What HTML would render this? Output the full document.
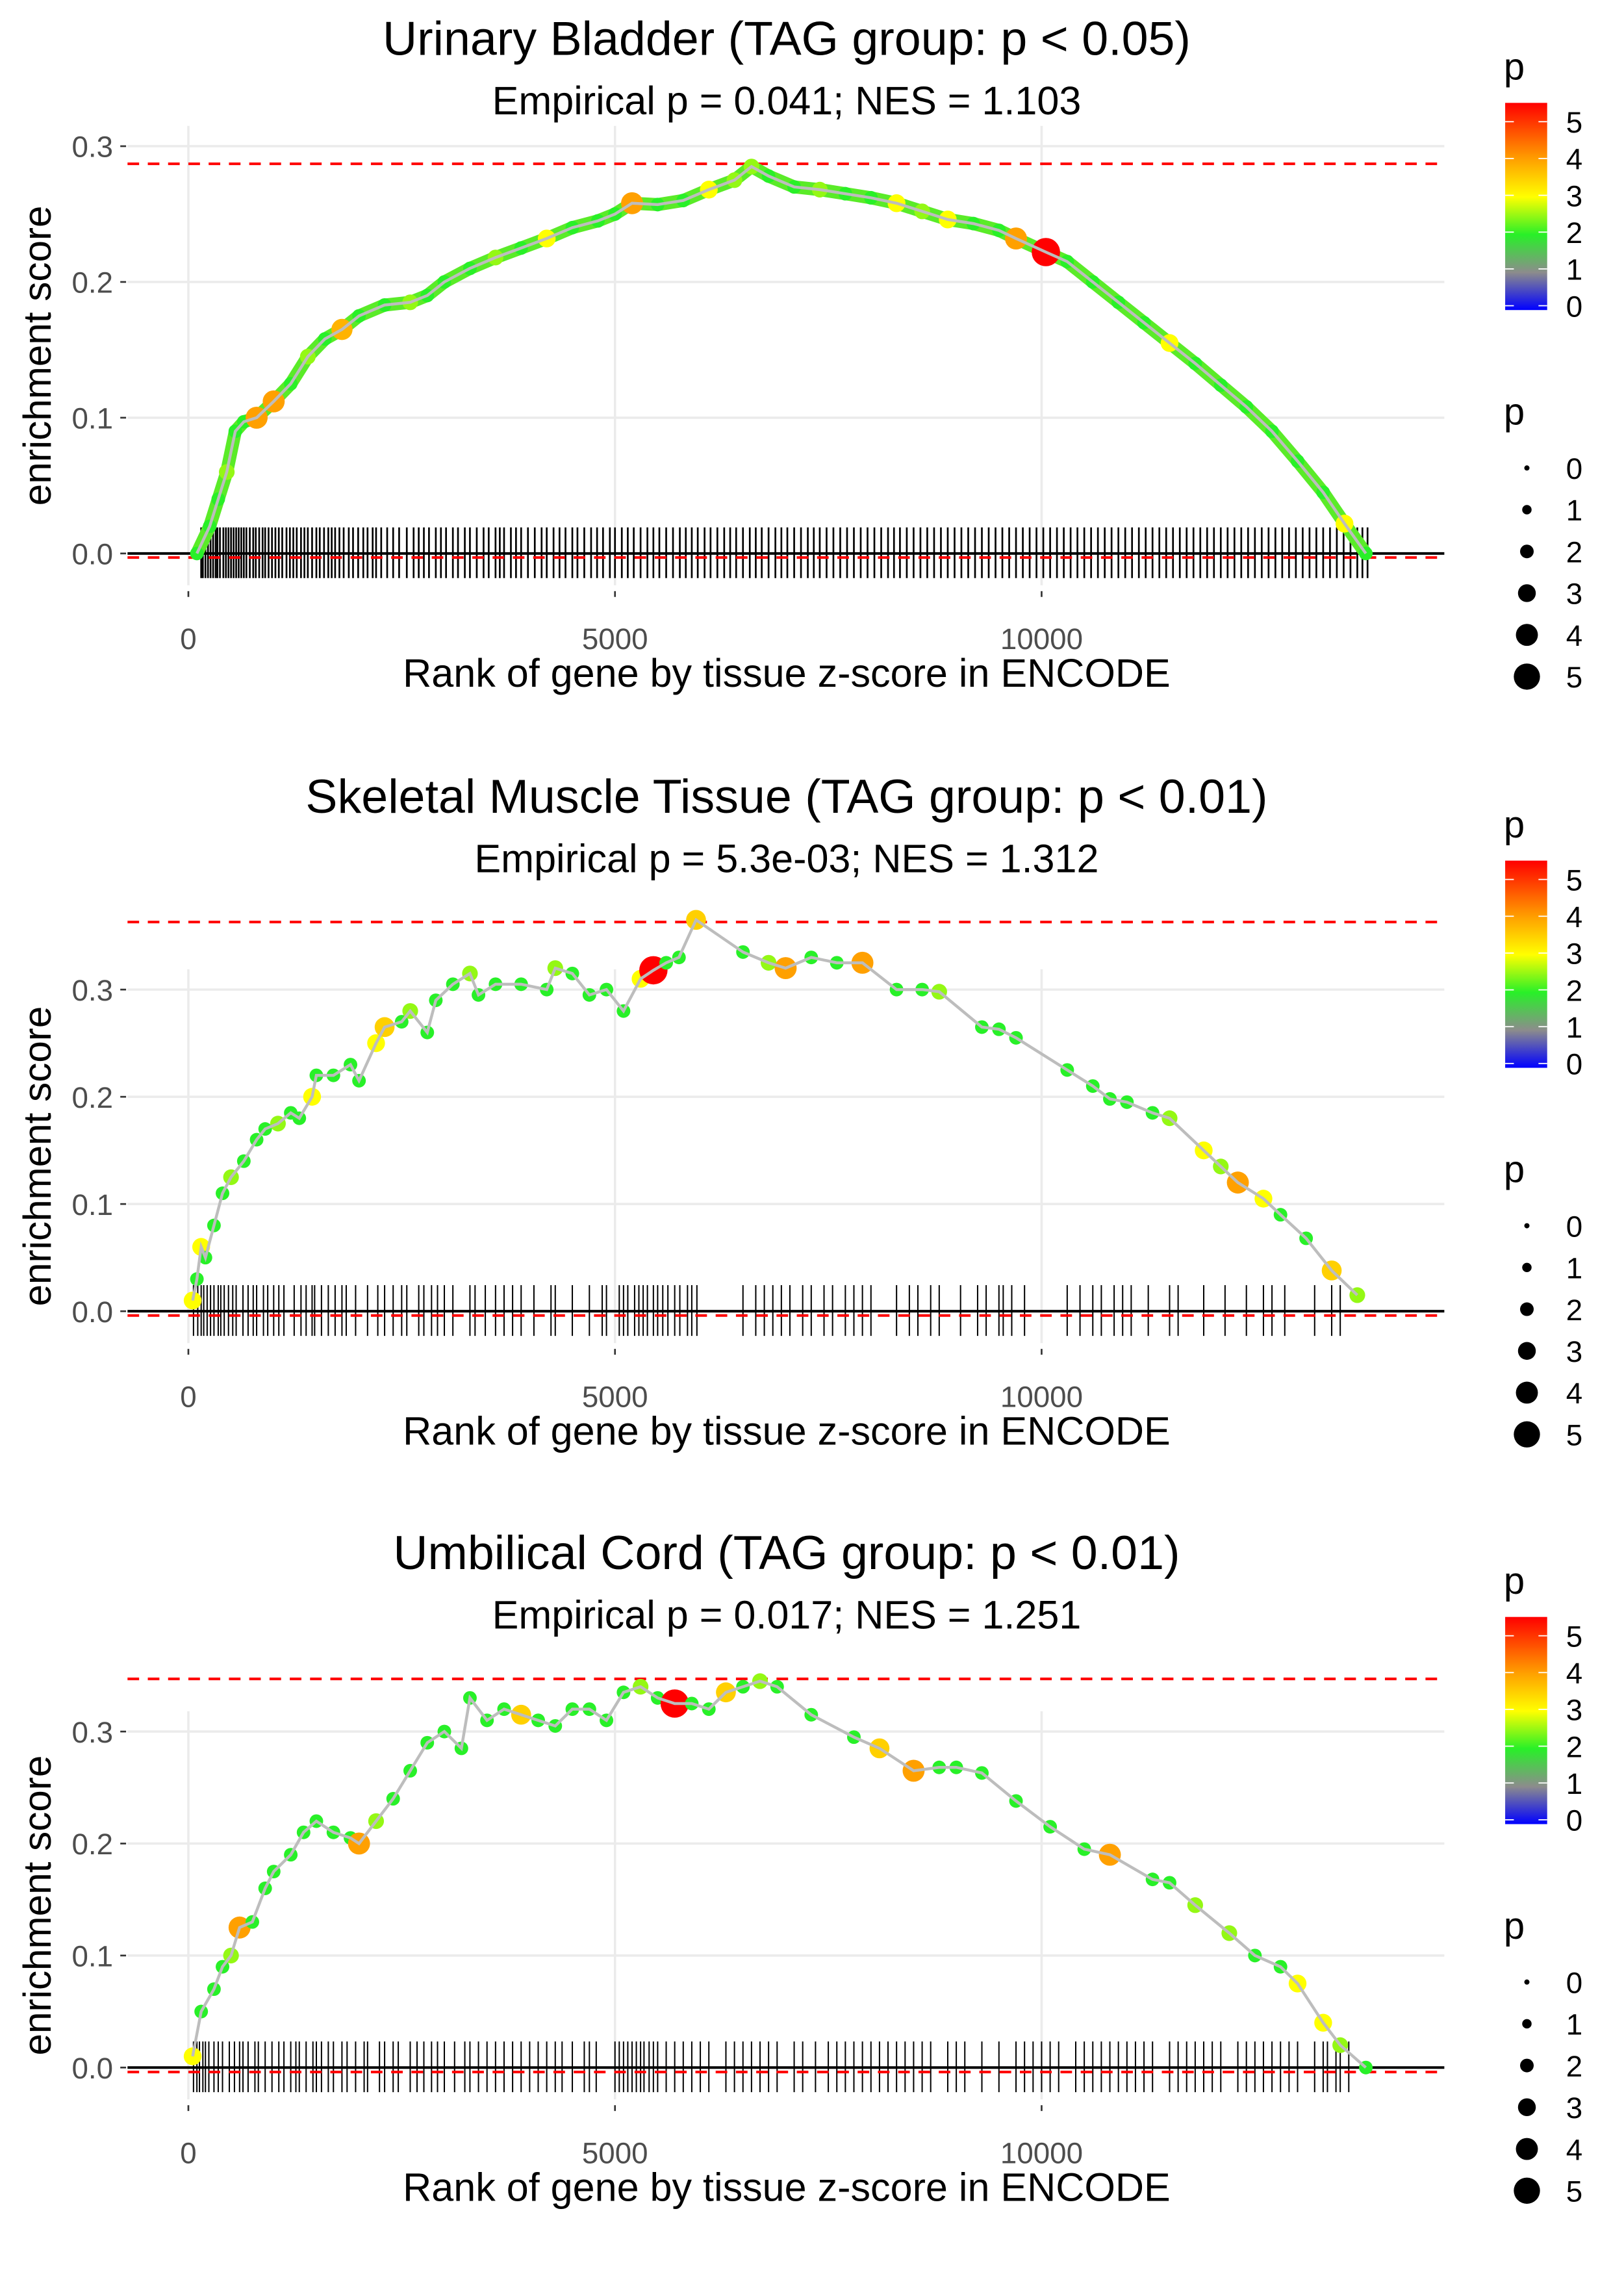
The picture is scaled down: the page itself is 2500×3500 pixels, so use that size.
<!DOCTYPE html>
<html><head><meta charset="utf-8"><style>
html,body{margin:0;padding:0;background:#fff}
svg{display:block}
text{font-family:"Liberation Sans",sans-serif}
</style></head><body>
<svg id="chart" width="2500" height="3500" viewBox="0 0 1121 1569.5" xmlns="http://www.w3.org/2000/svg"></svg>
<script>
// ---------- data ----------
const titles1=["Urinary Bladder (TAG group: p < 0.05)","Skeletal Muscle Tissue (TAG group: p < 0.01)","Umbilical Cord (TAG group: p < 0.01)"];
const subtitles=["Empirical p = 0.041; NES = 1.103","Empirical p = 5.3e-03; NES = 1.312","Empirical p = 0.017; NES = 1.251"];
const xTicks=[0,5000,10000];
const yTicks=[0.0,0.1,0.2,0.3];
const maxES=[0.287,0.363,0.347];
const minES=[-0.003,-0.004,-0.004];

const rank1=[100,250,350,450,550,650,800,1000,1200,1400,1600,1800,2000,2300,2600,2800,3000,3300,3600,3900,4200,4500,4800,5000,5200,5500,5800,6100,6400,6600,6800,7100,7400,7700,8000,8300,8600,8900,9200,9500,9700,10050,10300,10600,10900,11200,11500,11800,12100,12400,12700,13000,13300,13550,13800];
const es1=[0,0.02,0.04,0.06,0.09,0.097,0.10,0.112,0.125,0.145,0.158,0.165,0.175,0.183,0.185,0.19,0.2,0.21,0.218,0.225,0.232,0.24,0.245,0.25,0.258,0.257,0.26,0.268,0.275,0.285,0.278,0.27,0.268,0.265,0.262,0.258,0.252,0.246,0.243,0.238,0.232,0.222,0.215,0.2,0.185,0.17,0.155,0.14,0.124,0.108,0.09,0.068,0.045,0.022,0.0];
const p1=[2,2,2,2.5,2,2,4,4,2,2.5,2,3.8,2,2,2.5,2,2,2,2.5,2,3,2,2,2,4,2,2,3,2.5,2.5,2,2,2.5,2,2,3,2.5,3,2,2,4,5.5,2,2,2,2,3,2,2,2,2,2,2,3,2];

const rank2=[50,100,150,200,300,400,500,650,800,900,1050,1200,1300,1450,1500,1700,1900,2000,2200,2300,2500,2600,2800,2900,3100,3300,3400,3600,3900,4200,4300,4500,4700,4900,5100,5300,5450,5600,5750,5950,6500,6800,7000,7300,7600,7900,8300,8600,8800,9300,9500,9700,10300,10600,10800,11000,11300,11500,11900,12100,12300,12600,12800,13100,13400,13700];
const es2=[0.01,0.03,0.06,0.05,0.08,0.11,0.125,0.14,0.16,0.17,0.175,0.185,0.18,0.2,0.22,0.22,0.23,0.215,0.25,0.265,0.27,0.28,0.26,0.29,0.305,0.315,0.295,0.305,0.305,0.3,0.32,0.315,0.295,0.3,0.28,0.31,0.318,0.325,0.33,0.365,0.335,0.325,0.32,0.33,0.325,0.325,0.3,0.3,0.298,0.265,0.263,0.255,0.225,0.21,0.198,0.195,0.185,0.18,0.15,0.135,0.12,0.105,0.09,0.068,0.038,0.015];
const p2=[3,2,3,2,2,2,2.5,2,2,2,2.5,2,2,3,2,2,2,2,3,3.5,2,2.5,2,2,2,2.5,2,2,2,2,2.5,2,2,2,2,3,5.5,2,2,3.5,2,2.5,4,2,2,4,2,2,2.5,2,2,2,2,2,2,2,2,2.5,3,2.5,4,3,2,2,3.5,2.5];
const rug2=[60,110,150,180,220,260,300,350,380,420,470,520,560,640,700,760,800,880,930,1000,1060,1120,1240,1320,1380,1450,1480,1560,1640,1720,1800,1850,1960,2100,2220,2300,2400,2500,2560,2700,2760,2850,2920,3000,3100,3300,3360,3480,3600,3700,3800,3900,4050,4250,4300,4500,4700,4850,4900,5050,5100,5150,5230,5280,5330,5380,5450,5500,5560,5620,5700,5760,5850,5900,5960,6500,6650,6750,6850,6950,7050,7200,7300,7450,7550,7700,7800,7900,8000,8300,8450,8550,8700,8800,9050,9250,9350,9500,9550,9650,9800,10300,10450,10600,10700,10850,10950,11050,11250,11500,11600,11900,12150,12400,12600,12700,12850,13200,13400,13500];

const rank3=[50,150,300,400,500,600,750,900,1000,1200,1350,1500,1700,1900,2000,2200,2400,2600,2800,3000,3200,3300,3500,3700,3900,4100,4300,4500,4700,4900,5100,5300,5500,5700,5900,6100,6300,6500,6700,6900,7300,7800,8100,8500,8800,9000,9300,9700,10100,10500,10800,11300,11500,11800,12200,12500,12800,13000,13300,13500,13800];
const es3=[0.01,0.05,0.07,0.09,0.1,0.125,0.13,0.16,0.175,0.19,0.21,0.22,0.21,0.205,0.2,0.22,0.24,0.265,0.29,0.3,0.285,0.33,0.31,0.32,0.315,0.31,0.305,0.32,0.32,0.31,0.335,0.34,0.33,0.325,0.325,0.32,0.335,0.34,0.345,0.34,0.315,0.295,0.285,0.265,0.268,0.268,0.263,0.238,0.215,0.195,0.19,0.168,0.165,0.145,0.12,0.1,0.09,0.075,0.04,0.02,0.0];
const p3=[3,2,2,2,2.5,4,2,2,2,2,2,2,2,2,4,2.5,2,2,2,2,2,2,2,2,3.5,2,2,2,2,2,2,2.5,2,5.5,2,2,3.5,2,2.5,2,2,2,3.5,4,2,2,2,2,2,2,4,2,2,2.5,2.5,2,2,3,3,2.5,2];
const rug3=[60,100,130,170,200,240,300,350,400,480,540,600,640,700,780,820,900,980,1060,1120,1200,1260,1300,1380,1460,1500,1560,1640,1700,1800,1860,1960,2060,2100,2240,2300,2400,2460,2600,2680,2760,2850,2920,3000,3120,3240,3300,3400,3500,3600,3700,3800,3900,4000,4100,4200,4300,4380,4500,4640,4700,4780,5000,5050,5100,5150,5200,5250,5300,5340,5400,5450,5500,5600,5700,5800,5900,6000,6100,6300,6400,6500,6600,6700,6800,6900,7100,7200,7350,7500,7600,7700,7800,7900,8000,8100,8200,8300,8400,8500,8600,8700,8900,9000,9100,9300,9500,9700,9800,9900,10000,10100,10200,10400,10500,10600,10700,10800,10900,11000,11100,11200,11300,11500,11600,11700,11800,11900,12000,12100,12300,12400,12500,12600,12700,12800,12900,13000,13200,13300,13350,13450,13500,13600];
const rug1Start=[150,170,200,230,260,290,320,340,370,410,440,470,500,530,560,590,620,650,680,720,760,790,830,870,900,940,980,1020,1060,1100,1150,1190,1230,1270,1320,1360,1400,1450,1500,1540,1590,1640,1680,1720,1770,1820,1880,1930,1990,2050,2100,2160,2200,2260,2330,2400,2470,2560,2640,2700,2760,2820,2900,2960,3020,3100,3160,3240,3300,3380,3460,3520,3600,3650,3700,3780,3840,3900,3980,4060,4140,4200,4280,4350,4420,4500,4560,4640,4720,4790,4860,4940,5000,5080,5150,5220,5300,5380,5450,5520,5600,5680,5760,5830,5900,5970,6050,6120,6200,6280,6350,6420,6500,6580,6650,6720,6800,6880,6950,7020,7100,7180,7260,7330,7400,7480,7560,7640,7720,7800,7880,7960,8040,8120,8200,8270,8340,8420,8500,8580,8660,8740,8820,8900,8980,9060,9140,9220,9300,9380,9460,9540,9620,9700,9780,9860,9940,10020,10100,10180,10260,10340,10420,10500,10580,10660,10740,10820,10900,10980,11060,11140,11220,11300,11380,11460,11540,11620,11700,11780,11860,11940,12020,12100,12180,12260,12340,12420,12500,12580,12660,12740,12820,12900,12980,13060,13140,13220,13300,13380,13460,13540,13620,13700,13760,13820];

// ---------- drawing ----------
const svg=document.getElementById('chart');
const NS="http://www.w3.org/2000/svg";
function mk(tag,attrs,parent){const e=document.createElementNS(NS,tag);for(const k in attrs)e.setAttribute(k,attrs[k]);(parent||svg).appendChild(e);return e;}
function colorOf(p){
  const stops=[[0,[0,0,255]],[1,[140,140,140]],[2,[40,240,40]],[3,[255,255,0]],[4,[255,160,0]],[5.5,[255,0,0]]];
  p=Math.max(0,Math.min(5.5,p));
  for(let i=0;i<stops.length-1;i++){const a=stops[i],b=stops[i+1];if(p<=b[0]){const t=(p-a[0])/(b[0]-a[0]);const c=a[1].map((v,j)=>Math.round(v+(b[1][j]-v)*t));return `rgb(${c.join(',')})`;}}
  return 'rgb(255,0,0)';
}
function radOf(p){return 1.8+p*1.45;}

const panels=[
 {off:0,y0:382,ys:937,rank:rank1,es:es1,p:p1,rug:rug1Start,band:9,rugW:1.2},
 {off:523,y0:905,ys:740,rank:rank2,es:es2,p:p2,rug:rug2,band:0,rugW:0.9},
 {off:1045,y0:1427,ys:773,rank:rank3,es:es3,p:p3,rug:rug3,band:0,rugW:0.9}
];
const xL=88,xR=997;
function xS(v){return 130+v*0.0589;}

panels.forEach((P,i)=>{
  const g=mk('g',{});
  
  
  const yS=v=>P.y0-v*P.ys;
  const top=yS(0.3)-14, bot=P.y0+22;
  const t=mk('text',{x:543,y:P.off+38,'font-size':33,'text-anchor':'middle',fill:'#000'},g);t.textContent=titles1[i];
  
  const s=mk('text',{x:543,y:P.off+79,'font-size':27.4,'text-anchor':'middle',fill:'#000'},g);s.textContent=subtitles[i];
  
  xTicks.forEach(v=>{const l=mk('line',{x1:xS(v),x2:xS(v),y1:top,y2:bot,stroke:'#ebebeb','stroke-width':1.6},g);
    
    mk('line',{x1:xS(v),x2:xS(v),y1:bot+4,y2:bot+8,stroke:'#333','stroke-width':1.2},g);
    const tl=mk('text',{x:xS(v),y:P.y0+66,'font-size':20.5,'text-anchor':'middle',fill:'#4d4d4d'},g);tl.textContent=v;
    });
  yTicks.forEach(v=>{if(v>0){const l=mk('line',{x1:xL,x2:xR,y1:yS(v),y2:yS(v),stroke:'#ebebeb','stroke-width':1.6},g);
    }
    mk('line',{x1:83,x2:87,y1:yS(v),y2:yS(v),stroke:'#333','stroke-width':1.2},g);
    const tl=mk('text',{x:78,y:yS(v)+7.5,'font-size':20.5,'text-anchor':'end',fill:'#4d4d4d'},g);tl.textContent=v.toFixed(1);
    });
  P.rug.forEach(r=>{const l=mk('line',{x1:xS(r),x2:xS(r),y1:P.y0-18,y2:P.y0+17,stroke:'#000','stroke-width':P.rugW},g);
    });
  const z=mk('line',{x1:xL,x2:xR,y1:P.y0,y2:P.y0,stroke:'#000','stroke-width':1.8},g);
  
  const mx=mk('line',{x1:xL,x2:xR,y1:yS(maxES[i]),y2:yS(maxES[i]),stroke:'#ff0000','stroke-width':1.8,'stroke-dasharray':'8,6'},g);
  
  const mn=mk('line',{x1:xL,x2:xR,y1:yS(minES[i]),y2:yS(minES[i]),stroke:'#ff0000','stroke-width':1.8,'stroke-dasharray':'8,6'},g);
  
  const pts=P.rank.map((r,k)=>xS(r)+','+yS(P.es[k])).join(' ');
  if(P.band>0){const bd=mk('polyline',{points:pts,fill:'none',stroke:'rgb(90,235,40)','stroke-width':P.band,'stroke-linejoin':'round','stroke-linecap':'round'},g);
    }
  P.rank.forEach((r,k)=>{const c=mk('circle',{cx:xS(r),cy:yS(P.es[k]),r:radOf(P.p[k]),fill:colorOf(P.p[k])},g);
    });
  const pl=mk('polyline',{points:pts,fill:'none',stroke:'#bdbdbd','stroke-width':2},g);
  
  const xt=mk('text',{x:543,y:P.y0+92,'font-size':27.4,'text-anchor':'middle',fill:'#000'},g);xt.textContent='Rank of gene by tissue z-score in ENCODE';
  
  const cy=(top+bot)/2;
  const yt=mk('text',{x:0,y:0,'font-size':27,'text-anchor':'middle',fill:'#000',transform:`translate(35,${cy}) rotate(-90)`},g);yt.textContent='enrichment score';
  
  const o=P.off;
  const lt=mk('text',{x:1038,y:o+55,'font-size':26,fill:'#000'},g);lt.textContent='p';
  
  const gid='grad'+i;
  const defs=mk('defs',{},g);const lg=mk('linearGradient',{id:gid,x1:0,y1:1,x2:0,y2:0},defs);
  [0,1,2,3,4,5.5].forEach(v=>mk('stop',{offset:(v/5.5),'stop-color':colorOf(v)},lg));
  const bar=mk('rect',{x:1039,y:o+71,width:29,height:143,fill:`url(#${gid})`},g);
  
  for(let v=0;v<=5;v++){const yy=o+211-v*25.4;
    mk('line',{x1:1039,x2:1045,y1:yy,y2:yy,stroke:'#fff','stroke-width':0.8},g);
    mk('line',{x1:1062,x2:1068,y1:yy,y2:yy,stroke:'#fff','stroke-width':0.8},g);
    const tl=mk('text',{x:1081,y:yy+7.5,'font-size':20.5,fill:'#000'},g);tl.textContent=v;
    }
  const st=mk('text',{x:1038,y:o+293,'font-size':26,fill:'#000'},g);st.textContent='p';
  
  for(let v=0;v<=5;v++){const yy=o+323+v*28.8;
    const c=mk('circle',{cx:1054,cy:yy,r:radOf(v),fill:'#000'},g);
    
    const tl=mk('text',{x:1081,y:yy+7.5,'font-size':20.5,fill:'#000'},g);tl.textContent=v;
    }
});
</script>
</body></html>
